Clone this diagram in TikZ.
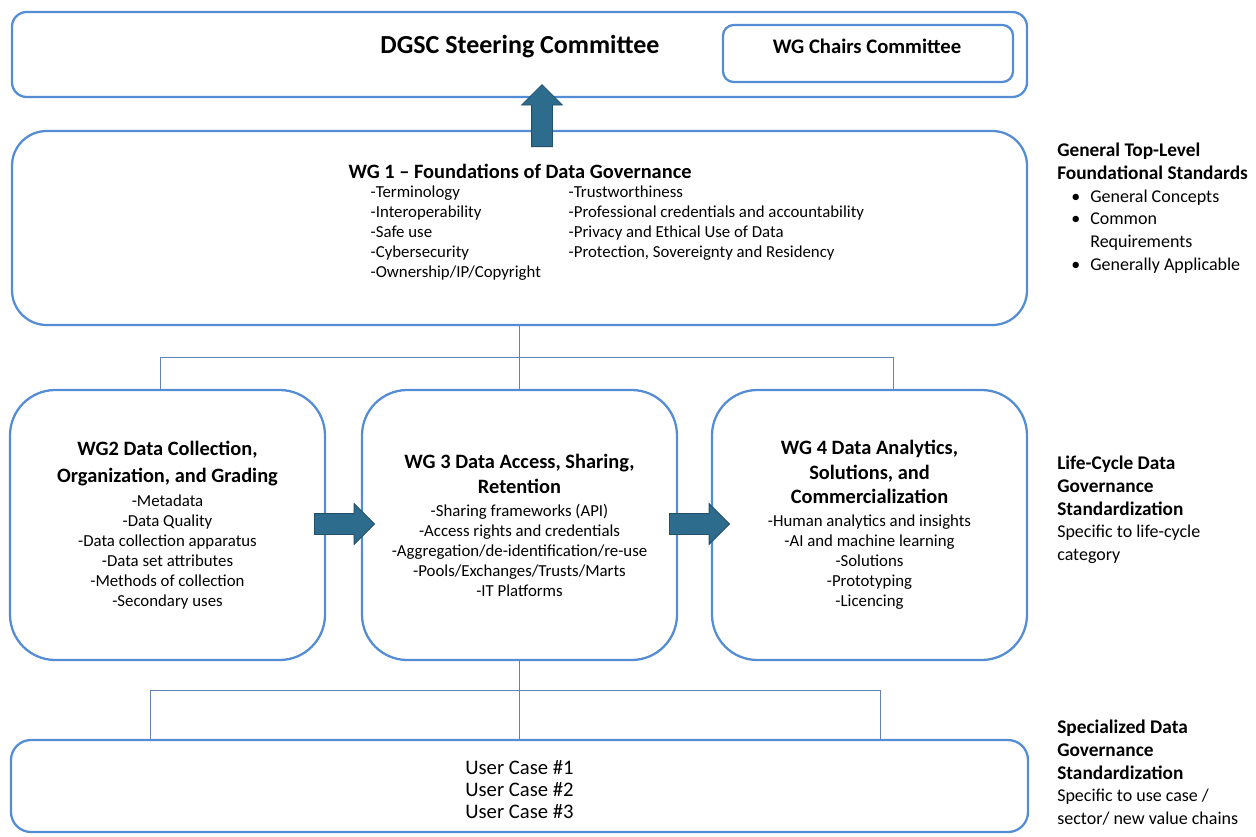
\documentclass[tikz,border=0pt]{standalone}
\usepackage{fontspec}
\setmainfont{Carlito}
\usetikzlibrary{shapes.arrows,calc}
\definecolor{boxblue}{RGB}{84,141,212}
\definecolor{linkblue}{RGB}{100,130,180}
\definecolor{arrowfill}{RGB}{45,108,140}
\definecolor{arrowedge}{RGB}{35,80,110}
\tikzset{
  box/.style={draw=boxblue,line width=1.7pt,fill=white},
  link/.style={draw=linkblue,line width=0.7pt},
  bigarrow/.style={single arrow,draw=arrowedge,line width=0.6pt,fill=arrowfill,anchor=tail,
    inner xsep=0pt,inner ysep=7.5pt,minimum height=45pt,single arrow head extend=7.5pt},
  wgtext/.style={align=center,font=\fontsize{12.6}{15}\selectfont},
  side/.style={anchor=north west,align=left,inner sep=0pt,font=\fontsize{13.5}{17}\selectfont},
}
\newcommand\wgtitle[1]{{\bfseries\fontsize{15.3}{15}\selectfont #1}}
\newcommand\sidehead[1]{{\bfseries\fontsize{14.5}{17}\selectfont #1}}
\newcommand\itembul{\makebox[24.75pt][l]{\hspace{10.5pt}\textbullet}}
\begin{document}
\begin{tikzpicture}[x=0.75pt,y=-0.75pt]
\useasboundingbox (0,0) rectangle (1256,836);
% steering level
\node[box,rounded corners=11pt,minimum width=761.25pt,minimum height=63.75pt] (dgsc) at (519.5,54.5) {};
\node[box,rounded corners=8pt,minimum width=217.5pt,minimum height=42.75pt] (chairs) at (868,53.5) {};
\node[font=\bfseries\fontsize{19.5}{22}\selectfont] (dgsctxt) at (520,47) {DGSC Steering Committee};
\node[font=\bfseries\fontsize{15.5}{18}\selectfont] (chairstxt) at (867,46) {WG Chairs Committee};
% WG 1
\node[box,rounded corners=26pt,minimum width=761.25pt,minimum height=145.5pt] (wg1) at (519.5,228) {};
\node[font=\bfseries\fontsize{15.3}{17}\selectfont] (wg1txt) at (520,171) {WG 1 – Foundations of Data Governance};
\node[wgtext,align=left,anchor=north west] (wg1a) at (366,181) {-Terminology\\-Interoperability\\-Safe use\\-Cybersecurity\\-Ownership/IP/Copyright};
\node[wgtext,align=left,anchor=north west] (wg1b) at (564,181) {-Trustworthiness\\-Professional credentials and accountability\\-Privacy and Ethical Use of Data\\-Protection, Sovereignty and Residency};
% life-cycle groups
\node[box,rounded corners=34pt,minimum width=236.25pt,minimum height=202.5pt,wgtext] (wg2) at (167.5,525)
  {\wgtitle{WG2 Data Collection,}\\[5.25pt]\wgtitle{Organization, and Grading}\\[3pt]
   -Metadata\\-Data Quality\\-Data collection apparatus\\-Data set attributes\\-Methods of collection\\-Secondary uses};
\node[box,rounded corners=34pt,minimum width=236.25pt,minimum height=202.5pt,wgtext] (wg3) at (519.5,525)
  {\wgtitle{WG 3 Data Access, Sharing,}\\[3.75pt]\wgtitle{Retention}\\[2.25pt]
   -Sharing frameworks (API)\\-Access rights and credentials\\-Aggregation/de-identification/re-use\\-Pools/Exchanges/Trusts/Marts\\-IT Platforms};
\node[box,rounded corners=34pt,minimum width=236.25pt,minimum height=202.5pt,wgtext] (wg4) at (869.5,525)
  {\wgtitle{WG 4 Data Analytics,}\\[3.4pt]\wgtitle{Solutions, and}\\[3.4pt]\wgtitle{Commercialization}\\[2.25pt]
   -Human analytics and insights\\-AI and machine learning\\-Solutions\\-Prototyping\\-Licencing};
% use cases
\node[box,rounded corners=15pt,minimum width=762.75pt,minimum height=69pt] (cases) at (519.5,786) {};
\node[wgtext,font=\fontsize{15.5}{16.5}\selectfont] (casestxt) at (519.5,790) {User Case \#1\\User Case \#2\\User Case \#3};
% tree lines
\coordinate (s1l) at (160,357);
\coordinate (s1r) at (893,357);
\coordinate (s2l) at (150,690);
\coordinate (s2r) at (880,690);
\draw[link] (wg1.south) -- (wg3.north);
\draw[link] (s1l |- wg2.north) -- (s1l) -- (s1r) -- (s1r |- wg4.north);
\draw[link] (wg3.south) -- (cases.north);
\draw[link] (s2l |- cases.north) -- (s2l) -- (s2r) -- (s2r |- cases.north);
% block arrows
\node[bigarrow,rotate=90,minimum height=46.5pt] (up) at (542,147) {};
\node[bigarrow] (a23) at ($(wg2.east)+(-12,-1)$) {};
\node[bigarrow] (a34) at ($(wg3.east)+(-9,-1)$) {};
% side labels
\node[side] (lab1) at (1057,143) {\sidehead{General Top-Level}\\\sidehead{Foundational Standards}\\\itembul General Concepts\\\itembul Common\\\hspace*{24.75pt}Requirements\\\itembul Generally Applicable};
\node[side] (lab2) at (1057,456) {\sidehead{Life-Cycle Data}\\\sidehead{Governance}\\\sidehead{Standardization}\\Specific to life-cycle\\category};
\node[side] (lab3) at (1057,720) {\sidehead{Specialized Data}\\\sidehead{Governance}\\\sidehead{Standardization}\\Specific to use case /\\sector/ new value chains};
\end{tikzpicture}
\end{document}
